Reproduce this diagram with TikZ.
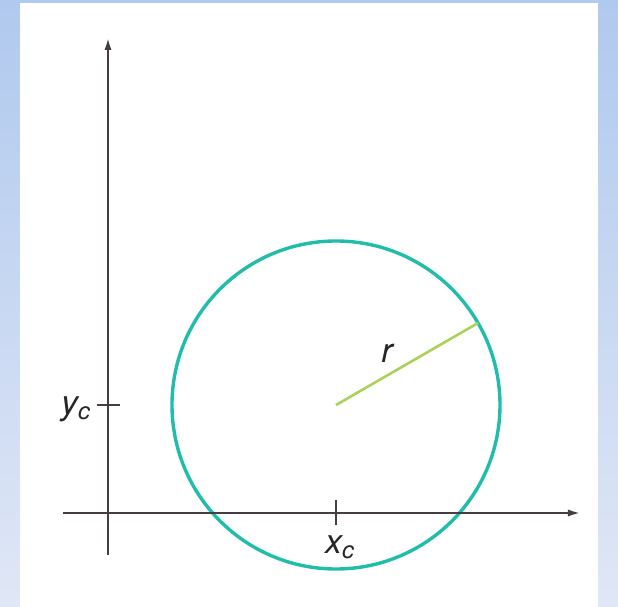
\documentclass[tikz,border=0pt]{standalone}
\usepackage{fontspec}
\setsansfont{TeX Gyre Heros}
\usetikzlibrary{arrows.meta,calc}
\definecolor{framecolor}{RGB}{176,201,238}
\definecolor{framelight}{RGB}{224,231,246}
\definecolor{axiscolor}{RGB}{70,62,62}
\definecolor{circcolor}{RGB}{32,190,170}
\definecolor{radcolor}{RGB}{170,210,90}

\begin{document}
\begin{tikzpicture}[
    x=0.5pt, y=0.5pt,
    axis/.style={-{Latex[length=6pt,width=3.6pt]}, line width=1pt, axiscolor},
    tick/.style={line width=1pt, axiscolor},
    circ/.style={draw=circcolor, line width=1.7pt},
    radline/.style={radcolor, line width=1.3pt},
    lbl/.style={font=\fontsize{17}{19}\selectfont\sffamily\itshape, text=black!85, inner sep=1pt}
]

% ===== BACKGROUND =====
\shade[top color=framecolor, bottom color=framelight] (0,0) rectangle (618,607);
\fill[white] (20,0) rectangle (598,604);
\useasboundingbox (0,0) rectangle (618,607);

% ===== POINTS =====
\coordinate (xleft) at (63,94);
\coordinate (xright) at (580,94);
\coordinate (ybottom) at (108,52);
\coordinate (ytop) at (108,569);
\coordinate (center) at (336,202);
\coordinate (rim) at ($(center)+(30:164)$);
\coordinate (xtickup) at (336,107);
\coordinate (xtickdown) at (336,82);
\coordinate (ytickleft) at (97,202);
\coordinate (ytickright) at (120,202);

% ===== CIRCLE =====
\draw[circ] (center) circle[radius=164];
\draw[radline] (center) -- (rim);

% ===== AXES =====
\draw[axis] (xleft) -- (xright);
\draw[axis] (ybottom) -- (ytop);
\draw[tick] (xtickup) -- (xtickdown);
\draw[tick] (ytickleft) -- (ytickright);

% ===== LABELS =====
\node[lbl] (xc) at (340,60) {x\textsubscript{c}};
\node[lbl] (yc) at (76,198) {y\textsubscript{c}};
\node[lbl] (rl) at (387,254) {r};

\end{tikzpicture}
\end{document}
